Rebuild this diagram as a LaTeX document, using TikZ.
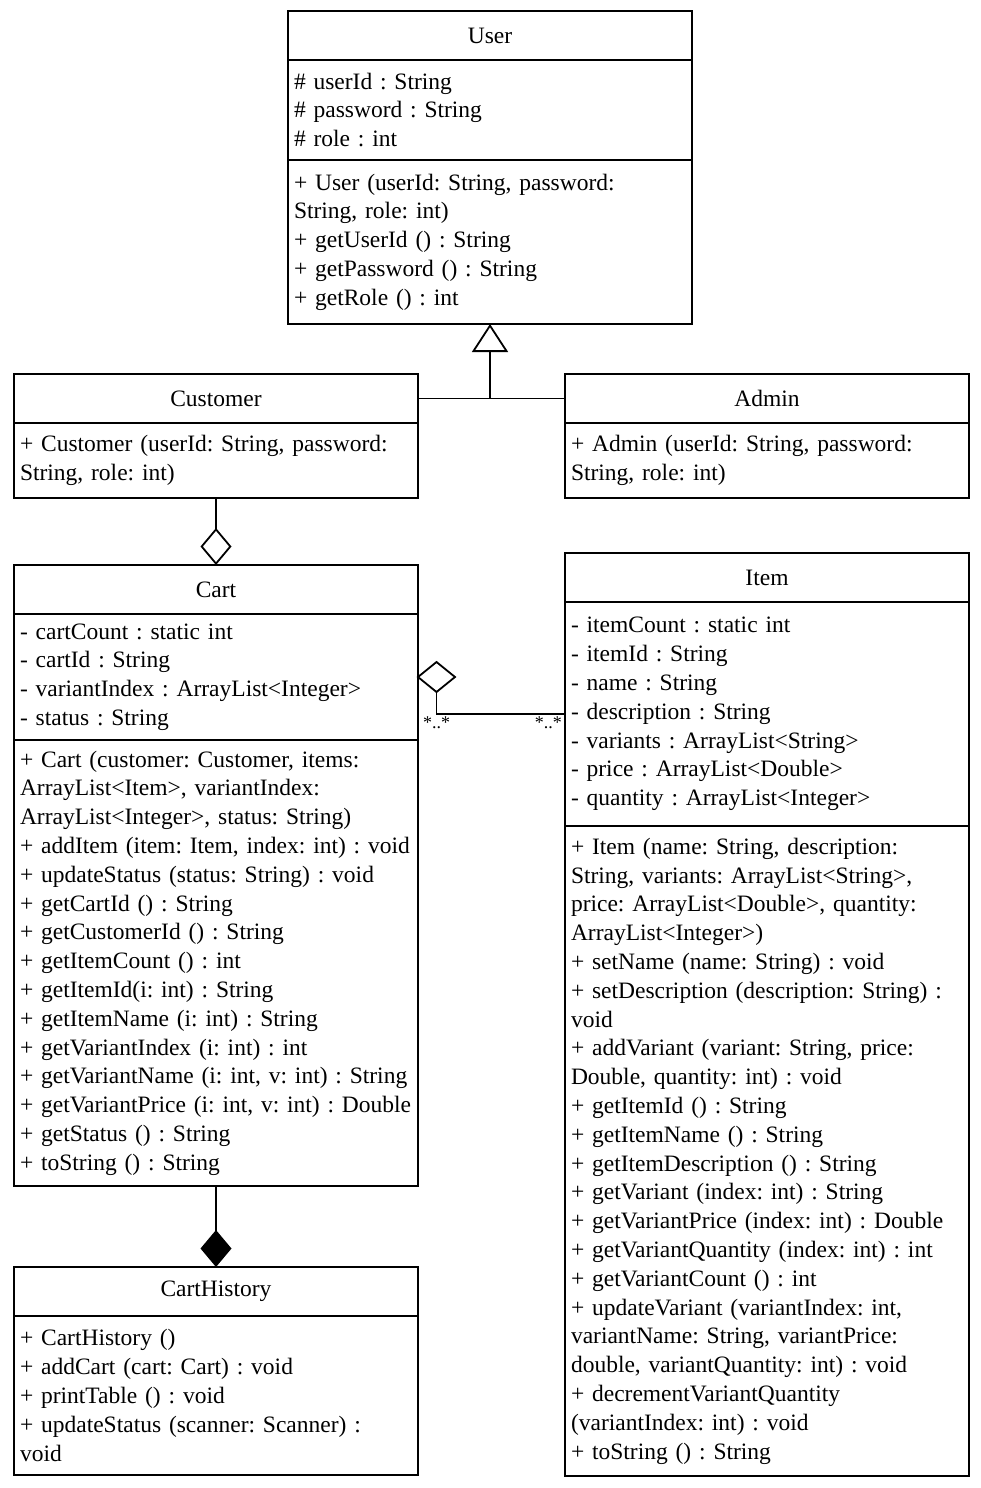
\documentclass[tikz,border=0pt]{standalone}
\usepackage{fontspec}
\setmainfont{Liberation Serif}
\usetikzlibrary{shapes.geometric, arrows.meta, positioning}
\frenchspacing
\hyphenpenalty=10000
\exhyphenpenalty=10000

\begin{document}
\begin{tikzpicture}[
    x=1pt, y=-1pt,
    head/.style={draw, line width=1.8pt, anchor=north west, minimum width=404pt, minimum height=49pt, inner sep=0pt, outer sep=0pt, font=\fontsize{23.5}{28.8}\selectfont},
    body/.style={draw, line width=1.8pt, text width=392pt, inner xsep=6pt, inner ysep=0pt, outer sep=0pt, align=left, font=\fontsize{23.5}{28.8}\selectfont},
    assoc/.style={line width=1.8pt},
    inherit/.style={line width=1.8pt, -{Triangle[open, length=28pt, width=36pt, fill=white]}},
    aggr/.style={line width=1.8pt, -{Diamond[open, length=37pt, width=31pt, fill=white]}},
    comp/.style={line width=1.8pt, -{Diamond[length=37pt, width=31pt]}},
    aggrbox/.style={draw, line width=1.8pt, shape=diamond, fill=white, minimum width=37pt, minimum height=30pt, inner sep=0pt, outer sep=0pt},
    mult/.style={font=\fontsize{18}{21.6}\selectfont, inner sep=3pt}
]
    \useasboundingbox (0,0) rectangle (980,1488);

    % User
    \node[head] (user) at (288,11) {User};
    \node[body, minimum height=100pt, below=0pt of user] (userattr) {%
        \# userId : String\\
        \# password : String\\
        \# role : int};
    \node[body, minimum height=164pt, below=0pt of userattr] (usermeth) {%
        + User (userId: String, password:\\
        String, role: int)\\
        + getUserId () : String\\
        + getPassword () : String\\
        + getRole () : int};

    % Customer and Admin
    \node[head] (customer) at (14,374) {Customer};
    \node[body, minimum height=75pt, below=0pt of customer] (customermeth) {%
        + Customer (userId: String, password:\\
        String, role: int)};
    \node[head] (admin) at (565,374) {Admin};
    \node[body, minimum height=75pt, below=0pt of admin] (adminmeth) {%
        + Admin (userId: String, password:\\
        String, role: int)};

    % Cart
    \node[head] (cart) at (14,565) {Cart};
    \node[body, minimum height=126pt, below=0pt of cart] (cartattr) {%
        - cartCount : static int\\
        - cartId : String\\
        - variantIndex : ArrayList<Integer>\\
        - status : String};
    \node[body, minimum height=446pt, below=0pt of cartattr] (cartmeth) {%
        + Cart (customer: Customer, items:\\
        ArrayList<Item>, variantIndex:\\
        ArrayList<Integer>, status: String)\\
        + addItem (item: Item, index: int) : void\\
        + updateStatus (status: String) : void\\
        + getCartId () : String\\
        + getCustomerId () : String\\
        + getItemCount () : int\\
        + getItemId(i: int) : String\\
        + getItemName (i: int) : String\\
        + getVariantIndex (i: int) : int\\
        + getVariantName (i: int, v: int) : String\\
        + getVariantPrice (i: int, v: int) : Double\\
        + getStatus () : String\\
        + toString () : String};

    % Item
    \node[head] (item) at (565,553) {Item};
    \node[body, minimum height=224pt, below=0pt of item] (itemattr) {%
        - itemCount : static int\\
        - itemId : String\\
        - name : String\\
        - description : String\\
        - variants : ArrayList<String>\\
        - price : ArrayList<Double>\\
        - quantity : ArrayList<Integer>};
    \node[body, minimum height=650pt, below=0pt of itemattr] (itemmeth) {%
        + Item (name: String, description:\\
        String, variants: ArrayList<String>,\\
        price: ArrayList<Double>, quantity:\\
        ArrayList<Integer>)\\
        + setName (name: String) : void\\
        + setDescription (description: String) :\\
        void\\
        + addVariant (variant: String, price:\\
        Double, quantity: int) : void\\
        + getItemId () : String\\
        + getItemName () : String\\
        + getItemDescription () : String\\
        + getVariant (index: int) : String\\
        + getVariantPrice (index: int) : Double\\
        + getVariantQuantity (index: int) : int\\
        + getVariantCount () : int\\
        + updateVariant (variantIndex: int,\\
        variantName: String, variantPrice:\\
        double, variantQuantity: int) : void\\
        + decrementVariantQuantity\\
        (variantIndex: int) : void\\
        + toString () : String};

    % CartHistory
    \node[head] (carthistory) at (14,1267) {CartHistory};
    \node[body, minimum height=159pt, below=0pt of carthistory] (carthistorymeth) {%
        + CartHistory ()\\
        + addCart (cart: Cart) : void\\
        + printTable () : void\\
        + updateStatus (scanner: Scanner) :\\
        void};

    % Generalisation
    \coordinate (tee) at (usermeth.south |- customer.east);
    \draw[assoc] (customer.east) -- (admin.west);
    \draw[inherit] (tee) -- (usermeth.south);

    % Customer has a Cart
    \draw[aggr] (customermeth.south) -- (cart.north);

    % Cart and Item
    \node[aggrbox, anchor=west] (cartdiamond) at (cartattr.east) {};
    \coordinate (itemjoin) at (565,714);
    \draw[assoc] (cartdiamond.south) |- (itemjoin);
    \node[mult, anchor=north] (multcart) at (cartdiamond.south |- itemjoin) {*..*};
    \node[mult, anchor=north east] (multitem) at (itemjoin) {*..*};

    % CartHistory owns Carts
    \draw[comp] (cartmeth.south) -- (carthistory.north);

\end{tikzpicture}
\end{document}
